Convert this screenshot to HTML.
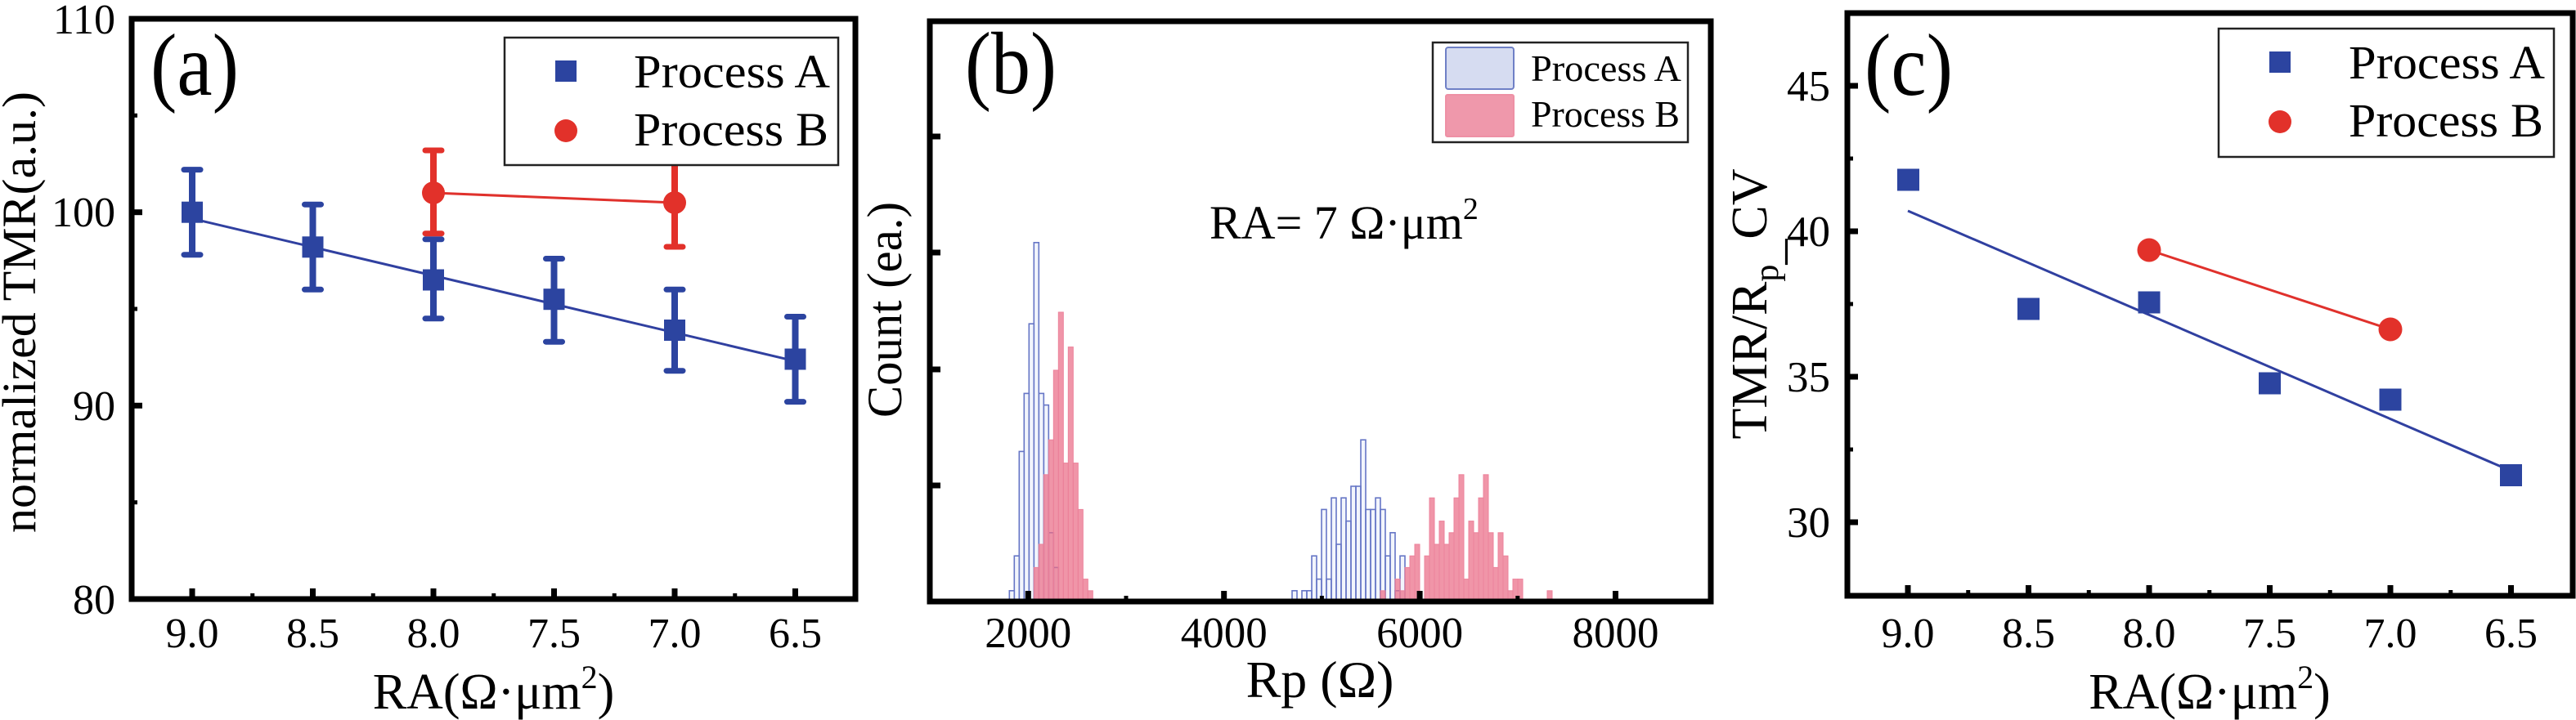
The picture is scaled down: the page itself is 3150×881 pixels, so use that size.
<!DOCTYPE html>
<html><head><meta charset="utf-8"><style>
html,body{margin:0;padding:0;background:#fff;}
svg{display:block;}
text{font-family:"Liberation Serif","Times New Roman",serif;fill:#000;}
</style></head><body>
<svg width="3150" height="881" viewBox="0 0 3150 881" xmlns="http://www.w3.org/2000/svg">
<rect width="3150" height="881" fill="#fff"/>

<!-- ================= PANEL (a) ================= -->
<g>
  <line x1="235" y1="267.5" x2="972.5" y2="441.9" stroke="#3040a0" stroke-width="3"/>
  <line x1="530" y1="236" x2="825" y2="248" stroke="#e0312c" stroke-width="3"/>
  <g stroke="#2c44a0" stroke-width="8" fill="none">
    <line x1="235" y1="207.6" x2="235" y2="311.7"/>
    <line x1="382.5" y1="250.2" x2="382.5" y2="354.3"/>
    <line x1="530" y1="292.8" x2="530" y2="389.8"/>
    <line x1="677.5" y1="316.5" x2="677.5" y2="418.2"/>
    <line x1="825" y1="354.3" x2="825" y2="453.7"/>
    <line x1="972.5" y1="387.5" x2="972.5" y2="491.6"/>
  </g>
  <g stroke="#2c44a0" stroke-width="7" stroke-linecap="round">
    <line x1="225" y1="207.6" x2="245" y2="207.6"/><line x1="225" y1="311.7" x2="245" y2="311.7"/>
    <line x1="372.5" y1="250.2" x2="392.5" y2="250.2"/><line x1="372.5" y1="354.3" x2="392.5" y2="354.3"/>
    <line x1="520" y1="292.8" x2="540" y2="292.8"/><line x1="520" y1="389.8" x2="540" y2="389.8"/>
    <line x1="667.5" y1="316.5" x2="687.5" y2="316.5"/><line x1="667.5" y1="418.2" x2="687.5" y2="418.2"/>
    <line x1="815" y1="354.3" x2="835" y2="354.3"/><line x1="815" y1="453.7" x2="835" y2="453.7"/>
    <line x1="962.5" y1="387.5" x2="982.5" y2="387.5"/><line x1="962.5" y1="491.6" x2="982.5" y2="491.6"/>
  </g>
  <g stroke="#e2312a" stroke-width="8">
    <line x1="530" y1="184" x2="530" y2="285.7"/>
    <line x1="825" y1="196" x2="825" y2="302"/>
  </g>
  <g stroke="#e2312a" stroke-width="7" stroke-linecap="round">
    <line x1="520" y1="184" x2="540" y2="184"/><line x1="520" y1="285.7" x2="540" y2="285.7"/>
    <line x1="815" y1="196" x2="835" y2="196"/><line x1="815" y1="302" x2="835" y2="302"/>
  </g>
  <g fill="#2c44a0">
    <rect x="222" y="246.7" width="26" height="26"/>
    <rect x="369.5" y="289.3" width="26" height="26"/>
    <rect x="517" y="329.5" width="26" height="26"/>
    <rect x="664.5" y="353.2" width="26" height="26"/>
    <rect x="812" y="391" width="26" height="26"/>
    <rect x="959.5" y="426.5" width="26" height="26"/>
  </g>
  <g fill="#e2312a">
    <circle cx="530" cy="236" r="14"/>
    <circle cx="825" cy="248" r="14"/>
  </g>
  <rect x="161" y="23" width="885" height="710" fill="none" stroke="#000" stroke-width="7"/>
  <g stroke="#000" stroke-width="7">
    <line x1="161" y1="259.7" x2="174" y2="259.7"/>
    <line x1="161" y1="496.3" x2="174" y2="496.3"/>
    <line x1="235" y1="733" x2="235" y2="720"/>
    <line x1="382.5" y1="733" x2="382.5" y2="720"/>
    <line x1="530" y1="733" x2="530" y2="720"/>
    <line x1="677.5" y1="733" x2="677.5" y2="720"/>
    <line x1="825" y1="733" x2="825" y2="720"/>
    <line x1="972.5" y1="733" x2="972.5" y2="720"/>
  </g>
  <g stroke="#000" stroke-width="5">
    <line x1="161" y1="141.3" x2="168" y2="141.3"/>
    <line x1="161" y1="378" x2="168" y2="378"/>
    <line x1="161" y1="614.7" x2="168" y2="614.7"/>
    <line x1="308.75" y1="733" x2="308.75" y2="726"/>
    <line x1="456.25" y1="733" x2="456.25" y2="726"/>
    <line x1="603.75" y1="733" x2="603.75" y2="726"/>
    <line x1="751.25" y1="733" x2="751.25" y2="726"/>
    <line x1="898.75" y1="733" x2="898.75" y2="726"/>
  </g>
  <g font-size="52" text-anchor="end">
    <text x="141" y="41">110</text>
    <text x="141" y="277">100</text>
    <text x="141" y="514">90</text>
    <text x="141" y="751">80</text>
  </g>
  <g font-size="52" text-anchor="middle">
    <text x="235" y="792">9.0</text>
    <text x="382.5" y="792">8.5</text>
    <text x="530" y="792">8.0</text>
    <text x="677.5" y="792">7.5</text>
    <text x="825" y="792">7.0</text>
    <text x="972.5" y="792">6.5</text>
  </g>
  <text x="603.5" y="867" font-size="62" text-anchor="middle">RA(Ω·μm<tspan dy="-25" font-size="40">2</tspan><tspan dy="25">)</tspan></text>
  <text transform="translate(43,382) rotate(-90)" font-size="58" text-anchor="middle" textLength="540" lengthAdjust="spacingAndGlyphs">normalized TMR(a.u.)</text>
  <text x="184" y="116" font-size="108" textLength="108" lengthAdjust="spacingAndGlyphs">(a)</text>
  <rect x="617" y="46" width="408" height="156" fill="#fff" stroke="#222" stroke-width="2.5"/>
  <rect x="679" y="74" width="26" height="26" fill="#2c44a0"/>
  <circle cx="692" cy="160" r="14" fill="#e2312a"/>
  <text x="775" y="107" font-size="58" textLength="240" lengthAdjust="spacingAndGlyphs">Process A</text>
  <text x="775" y="178" font-size="58" textLength="238" lengthAdjust="spacingAndGlyphs">Process B</text>
</g>

<!-- ================= PANEL (b) ================= -->
<g>
  <g fill="rgba(205,214,242,0.25)" stroke="#6676c6" stroke-width="1.6">
    <rect x="1234.3" y="722.8" width="6" height="14.2"/>
    <rect x="1240.3" y="680.2" width="6" height="56.8"/>
    <rect x="1246.3" y="552.4" width="6" height="184.6"/>
    <rect x="1252.3" y="481.4" width="6" height="255.6"/>
    <rect x="1258.3" y="396.2" width="6" height="340.8"/>
    <rect x="1264.3" y="296.8" width="6" height="440.2"/>
    <rect x="1270.3" y="481.4" width="6" height="255.6"/>
    <rect x="1276.3" y="495.6" width="6" height="241.4"/>
    <rect x="1282.3" y="651.8" width="6" height="85.2"/>
    <rect x="1288.3" y="694.4" width="6" height="42.6"/>

    <rect x="1580" y="722.8" width="6" height="14.2"/>
    <rect x="1592" y="722.8" width="6" height="14.2"/>
    <rect x="1598" y="722.8" width="6" height="14.2"/>
    <rect x="1604" y="680.2" width="6" height="56.8"/>
    <rect x="1610" y="708.6" width="6" height="28.4"/>
    <rect x="1616" y="623.4" width="6" height="113.6"/>
    <rect x="1622" y="708.6" width="6" height="28.4"/>
    <rect x="1628" y="609.2" width="6" height="127.8"/>
    <rect x="1634" y="666" width="6" height="71"/>
    <rect x="1640" y="609.2" width="6" height="127.8"/>
    <rect x="1646" y="637.6" width="6" height="99.4"/>
    <rect x="1652" y="595" width="6" height="142"/>
    <rect x="1658" y="595" width="6" height="142"/>
    <rect x="1664" y="538.2" width="6" height="198.8"/>
    <rect x="1670" y="623.4" width="6" height="113.6"/>
    <rect x="1676" y="623.4" width="6" height="113.6"/>
    <rect x="1682" y="609.2" width="6" height="127.8"/>
    <rect x="1688" y="623.4" width="6" height="113.6"/>
    <rect x="1694" y="680.2" width="6" height="56.8"/>
    <rect x="1700" y="651.8" width="6" height="85.2"/>
    <rect x="1706" y="722.8" width="6" height="14.2"/>
    <rect x="1712" y="680.2" width="6" height="56.8"/>
  </g>
  <g fill="rgb(234,108,135)" fill-opacity="0.72" stroke="rgb(236,130,155)" stroke-width="1">
    <rect x="1264.3" y="694.4" width="6" height="42.6"/>
    <rect x="1270.3" y="666" width="6" height="71"/>
    <rect x="1276.3" y="580.8" width="6" height="156.2"/>
    <rect x="1282.3" y="538.2" width="6" height="198.8"/>
    <rect x="1288.3" y="453" width="6" height="284"/>
    <rect x="1294.3" y="382" width="6" height="355"/>
    <rect x="1300.3" y="566.6" width="6" height="170.4"/>
    <rect x="1306.3" y="424.6" width="6" height="312.4"/>
    <rect x="1312.3" y="566.6" width="6" height="170.4"/>
    <rect x="1318.3" y="623.4" width="6" height="113.6"/>
    <rect x="1324.3" y="708.6" width="6" height="28.4"/>
    <rect x="1330.3" y="722.8" width="6" height="14.2"/>

    <rect x="1688" y="722.8" width="6" height="14.2"/>
    <rect x="1706" y="708.6" width="6" height="28.4"/>
    <rect x="1712" y="722.8" width="6" height="14.2"/>
    <rect x="1718" y="694.4" width="6" height="42.6"/>
    <rect x="1724" y="680.2" width="6" height="56.8"/>
    <rect x="1730" y="666" width="6" height="71"/>
    <rect x="1742" y="680.2" width="6" height="56.8"/>
    <rect x="1748" y="609.2" width="6" height="127.8"/>
    <rect x="1754" y="666" width="6" height="71"/>
    <rect x="1760" y="637.6" width="6" height="99.4"/>
    <rect x="1766" y="666" width="6" height="71"/>
    <rect x="1772" y="651.8" width="6" height="85.2"/>
    <rect x="1778" y="609.2" width="6" height="127.8"/>
    <rect x="1784" y="580.8" width="6" height="156.2"/>
    <rect x="1790" y="708.6" width="6" height="28.4"/>
    <rect x="1796" y="637.6" width="6" height="99.4"/>
    <rect x="1802" y="651.8" width="6" height="85.2"/>
    <rect x="1808" y="609.2" width="6" height="127.8"/>
    <rect x="1814" y="580.8" width="6" height="156.2"/>
    <rect x="1820" y="651.8" width="6" height="85.2"/>
    <rect x="1826" y="694.4" width="6" height="42.6"/>
    <rect x="1832" y="651.8" width="6" height="85.2"/>
    <rect x="1838" y="680.2" width="6" height="56.8"/>
    <rect x="1844" y="722.8" width="6" height="14.2"/>
    <rect x="1850" y="708.6" width="6" height="28.4"/>
    <rect x="1856" y="708.6" width="6" height="28.4"/>
    <rect x="1892" y="722.8" width="6" height="14.2"/>
  </g>
  <rect x="1137" y="26" width="955" height="710" fill="none" stroke="#000" stroke-width="7"/>
  <g stroke="#000" stroke-width="7">
    <line x1="1137" y1="167" x2="1150" y2="167"/>
    <line x1="1137" y1="309" x2="1150" y2="309"/>
    <line x1="1137" y1="452" x2="1150" y2="452"/>
    <line x1="1137" y1="594" x2="1150" y2="594"/>
    <line x1="1257.3" y1="736" x2="1257.3" y2="723"/>
    <line x1="1496.7" y1="736" x2="1496.7" y2="723"/>
    <line x1="1736.1" y1="736" x2="1736.1" y2="723"/>
    <line x1="1975.5" y1="736" x2="1975.5" y2="723"/>
  </g>
  <g stroke="#000" stroke-width="5">
    <line x1="1377" y1="736" x2="1377" y2="729"/>
    <line x1="1616.4" y1="736" x2="1616.4" y2="729"/>
    <line x1="1855.8" y1="736" x2="1855.8" y2="729"/>
  </g>
  <g font-size="53" text-anchor="middle">
    <text x="1257.3" y="792">2000</text>
    <text x="1496.7" y="792">4000</text>
    <text x="1736.1" y="792">6000</text>
    <text x="1975.5" y="792">8000</text>
  </g>
  <text x="1614" y="853" font-size="64" text-anchor="middle">Rp (Ω)</text>
  <text transform="translate(1102,379) rotate(-90)" font-size="60" text-anchor="middle" textLength="264" lengthAdjust="spacingAndGlyphs">Count (ea.)</text>
  <text x="1180" y="114" font-size="108" textLength="112" lengthAdjust="spacingAndGlyphs">(b)</text>
  <text x="1479" y="292" font-size="58">RA= 7 Ω·μm<tspan dy="-24" font-size="38">2</tspan></text>
  <rect x="1752" y="52" width="312" height="122" fill="#fff" stroke="#222" stroke-width="2.5"/>
  <rect x="1768" y="58" width="83" height="51" rx="3" fill="#d6dcf1" stroke="#6f80c6" stroke-width="2"/>
  <rect x="1768" y="116" width="83" height="51" rx="2" fill="#ef98ab" stroke="#ee90a5" stroke-width="2"/>
  <text x="1872" y="99" font-size="46" textLength="184" lengthAdjust="spacingAndGlyphs">Process A</text>
  <text x="1872" y="155" font-size="46" textLength="182" lengthAdjust="spacingAndGlyphs">Process B</text>
</g>

<!-- ================= PANEL (c) ================= -->
<g>
  <line x1="2333" y1="258" x2="3070" y2="576" stroke="#3040a0" stroke-width="3"/>
  <line x1="2628" y1="306" x2="2923" y2="403" stroke="#e0312c" stroke-width="3"/>
  <g fill="#2c44a0">
    <rect x="2320" y="206.5" width="27" height="27"/>
    <rect x="2467" y="364.5" width="27" height="27"/>
    <rect x="2614.5" y="356.5" width="27" height="27"/>
    <rect x="2762" y="455.5" width="27" height="27"/>
    <rect x="2909.5" y="475.5" width="27" height="27"/>
    <rect x="3057" y="568" width="27" height="27"/>
  </g>
  <g fill="#e2312a">
    <circle cx="2628" cy="306" r="14.5"/>
    <circle cx="2923" cy="403" r="14.5"/>
  </g>
  <rect x="2259" y="16" width="887" height="713" fill="none" stroke="#000" stroke-width="7"/>
  <g stroke="#000" stroke-width="7">
    <line x1="2259" y1="105" x2="2272" y2="105"/>
    <line x1="2259" y1="283" x2="2272" y2="283"/>
    <line x1="2259" y1="461" x2="2272" y2="461"/>
    <line x1="2259" y1="639" x2="2272" y2="639"/>
    <line x1="2333" y1="729" x2="2333" y2="716"/>
    <line x1="2480.5" y1="729" x2="2480.5" y2="716"/>
    <line x1="2628" y1="729" x2="2628" y2="716"/>
    <line x1="2775.5" y1="729" x2="2775.5" y2="716"/>
    <line x1="2923" y1="729" x2="2923" y2="716"/>
    <line x1="3070.5" y1="729" x2="3070.5" y2="716"/>
  </g>
  <g stroke="#000" stroke-width="5">
    <line x1="2259" y1="194" x2="2266" y2="194"/>
    <line x1="2259" y1="372" x2="2266" y2="372"/>
    <line x1="2259" y1="550" x2="2266" y2="550"/>
    <line x1="2406.75" y1="729" x2="2406.75" y2="722"/>
    <line x1="2554.25" y1="729" x2="2554.25" y2="722"/>
    <line x1="2701.75" y1="729" x2="2701.75" y2="722"/>
    <line x1="2849.25" y1="729" x2="2849.25" y2="722"/>
    <line x1="2996.75" y1="729" x2="2996.75" y2="722"/>
  </g>
  <g font-size="53" text-anchor="end">
    <text x="2238" y="123">45</text>
    <text x="2238" y="301">40</text>
    <text x="2238" y="479">35</text>
    <text x="2238" y="657">30</text>
  </g>
  <g font-size="52" text-anchor="middle">
    <text x="2333" y="792">9.0</text>
    <text x="2480.5" y="792">8.5</text>
    <text x="2628" y="792">8.0</text>
    <text x="2775.5" y="792">7.5</text>
    <text x="2923" y="792">7.0</text>
    <text x="3070.5" y="792">6.5</text>
  </g>
  <text x="2702" y="867" font-size="62" text-anchor="middle">RA(Ω·μm<tspan dy="-25" font-size="40">2</tspan><tspan dy="25">)</tspan></text>
  <text transform="translate(2160,372) rotate(-90)" font-size="62" text-anchor="middle">TMR/R<tspan dy="14" font-size="42">p</tspan><tspan font-size="62" dy="4">_</tspan><tspan dy="-18">CV</tspan></text>
  <text x="2280" y="116" font-size="108" textLength="108" lengthAdjust="spacingAndGlyphs">(c)</text>
  <rect x="2713" y="35" width="410" height="157" fill="#fff" stroke="#222" stroke-width="2.5"/>
  <rect x="2775" y="63" width="26" height="26" fill="#2c44a0"/>
  <circle cx="2788" cy="149" r="14" fill="#e2312a"/>
  <text x="2872" y="96" font-size="58" textLength="240" lengthAdjust="spacingAndGlyphs">Process A</text>
  <text x="2872" y="167" font-size="58" textLength="238" lengthAdjust="spacingAndGlyphs">Process B</text>
</g>
</svg>
</body></html>
